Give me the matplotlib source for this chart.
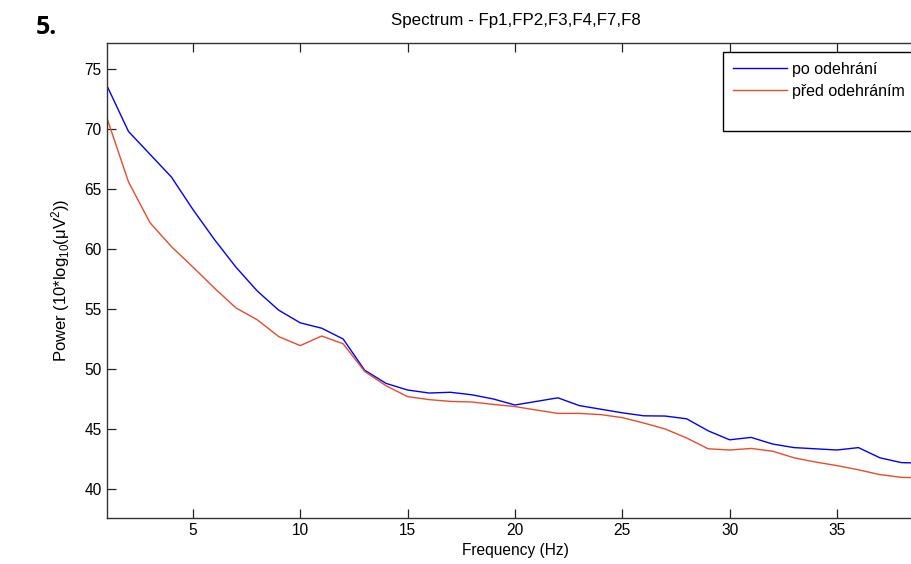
import matplotlib
matplotlib.use("Agg")
import matplotlib.pyplot as plt
from matplotlib.lines import Line2D

freq = [1, 2, 3, 4, 5, 6, 7, 8, 9, 10, 11, 12, 13, 14, 15, 16, 17, 18, 19, 20,
        21, 22, 23, 24, 25, 26, 27, 28, 29, 30, 31, 32, 33, 34, 35, 36, 37, 38, 39]
po_odehrani = [73.6, 69.8, 67.9, 66.0, 63.3, 60.8, 58.5, 56.5, 54.9, 53.85,
               53.4, 52.5, 49.9, 48.8, 48.25, 48.0, 48.06, 47.85, 47.5, 47.0,
               47.3, 47.6, 46.95, 46.65, 46.35, 46.1, 46.08, 45.85, 44.85, 44.1,
               44.3, 43.75, 43.45, 43.35, 43.25, 43.45, 42.6, 42.2, 42.15]
pred_odehranim = [70.9, 65.6, 62.2, 60.2, 58.5, 56.75, 55.1, 54.1, 52.7, 51.95,
                  52.75, 52.1, 49.8, 48.6, 47.7, 47.45, 47.3, 47.25, 47.05, 46.87,
                  46.58, 46.3, 46.3, 46.2, 45.95, 45.5, 45.0, 44.25, 43.35, 43.25,
                  43.38, 43.15, 42.6, 42.25, 41.95, 41.6, 41.2, 40.97, 40.93]
xticks = [5, 10, 15, 20, 25, 30, 35]
yticks = [40, 45, 50, 55, 60, 65, 70, 75]
labels = ["po odehrání", "před odehráním"]
title = "Spectrum - Fp1,FP2,F3,F4,F7,F8"

plt.rcParams['font.family'] = ['Liberation Sans', 'DejaVu Sans']
plt.rcParams['mathtext.fontset'] = 'custom'
plt.rcParams['mathtext.rm'] = 'Liberation Sans'
plt.rcParams['mathtext.it'] = 'Liberation Sans'
plt.rcParams['mathtext.default'] = 'regular'

W, H = 912, 564
fig = plt.figure(figsize=(W / 100, H / 100), dpi=100)
left, right, top, bottom = 107, 924, 43, 517.5
ax = fig.add_axes([left / W, 1 - bottom / H, (right - left) / W, (bottom - top) / H])

ax.plot(freq, po_odehrani, color='#0000ff', lw=1.0, label=labels[0])
ax.plot(freq, pred_odehranim, color='#ea4b2a', lw=1.0, label=labels[1])

ax.set_xticks(xticks)
ax.set_yticks(yticks)
ax.set_xlim(1, 1 + (right - left) / 21.47)
ax.set_ylim(37.625, 77.17)
ax.tick_params(direction='in', length=6.5, width=0.9, top=True, right=True,
               labelsize=11.2, pad=4, colors='#222222', labelcolor='black')
for s in ax.spines.values():
    s.set_color('#333333')
    s.set_linewidth(1.0)

ax.set_title(title, fontsize=12.2, pad=13)
ax.set_xlabel("Frequency (Hz)", fontsize=11.2, labelpad=3.5)
ax.set_ylabel("Power (10*log$_{10}$(μV$^2$))", fontsize=12, labelpad=9)

handles, lbls = ax.get_legend_handles_labels()
handles.append(Line2D([], [], color='none'))
lbls.append(" ")
leg = ax.legend(handles, lbls, loc='upper left',
                bbox_to_anchor=((723 - left) / (right - left), (bottom - 52) / (bottom - top)),
                borderaxespad=0, fontsize=11.5, handlelength=3.4, handletextpad=0.3,
                borderpad=0.6, labelspacing=0.45, fancybox=False, framealpha=1,
                edgecolor='black')
leg.get_frame().set_linewidth(1.0)

fig.text(36 / W, 1 - 28 / H, "5.", fontsize=18, fontweight='bold',
         family=['Open Sans', 'DejaVu Sans'], va='center', ha='left')

fig.savefig("out.png", dpi=100)
